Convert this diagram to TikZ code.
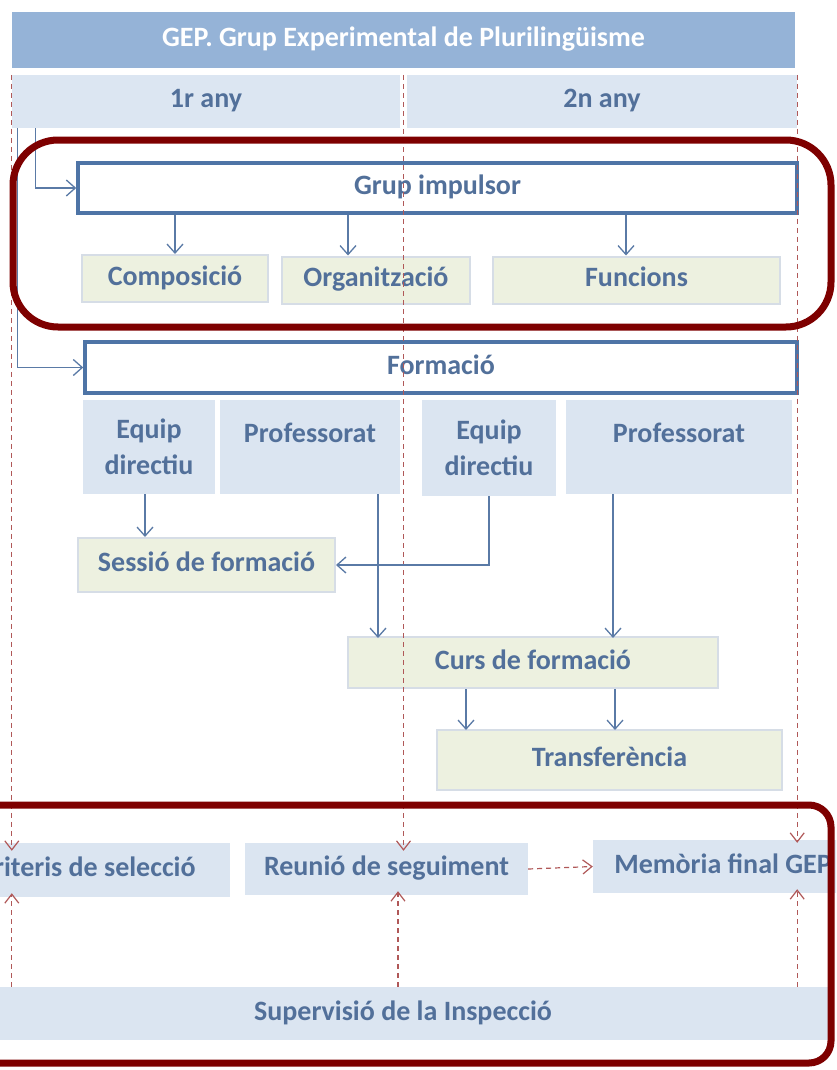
\documentclass[tikz,border=0pt]{standalone}
\usepackage{fontspec}
\setmainfont{Carlito}
\usetikzlibrary{arrows.meta,calc}
\definecolor{titlebar}{HTML}{95B3D7}
\definecolor{hdr}{HTML}{DCE6F2}
\definecolor{pale}{HTML}{DBE5F1}
\definecolor{ygreen}{HTML}{EDF1E0}
\definecolor{yborder}{HTML}{D6DDE6}
\definecolor{txtblue}{HTML}{52709A}
\definecolor{frameblue}{HTML}{4E74A6}
\definecolor{lineblue}{HTML}{5A7AA6}
\definecolor{darkred}{HTML}{7E0000}
\definecolor{dashred}{HTML}{B05858}
\tikzset{
  every node/.style={font=\fontsize{28}{36}\selectfont\bfseries, text=txtblue, inner sep=0pt, align=center},
  oneline/.style={text height=19pt, text depth=6pt},
  titlebox/.style={fill=titlebar, text=white, oneline},
  hdrbox/.style={fill=hdr, oneline},
  palebox/.style={fill=pale},
  lowbox/.style={fill=pale, oneline},
  ybox/.style={fill=ygreen, draw=yborder, line width=2pt, oneline},
  framebox/.style={fill=white, draw=frameblue, line width=3.5pt, oneline},
  conn/.style={draw=lineblue, line width=1.3pt, -{Straight Barb[length=9pt,width=16pt,line width=1.3pt]}},
  dashconn/.style={draw=dashred, line width=1.2pt, dash pattern=on 5pt off 4pt, -{Straight Barb[length=9pt,width=14pt,line width=1.2pt]}},
  redframe/.style={draw=darkred, line width=7pt}
}
\begin{document}
\begin{tikzpicture}[x=1pt,y=-1pt]
\useasboundingbox (0,0) rectangle (836,1070);
\clip (0,0) rectangle (836,1070);
\fill[white] (0,0) rectangle (836,1070);
% title and headers
\node[titlebox, minimum width=783pt, minimum height=56pt] (title) at (403.5,40) {GEP. Grup Experimental de Plurilingüisme};
\node[hdrbox, minimum width=388pt, minimum height=53pt] (h1) at (206,101.5) {1r any};
\node[hdrbox, minimum width=390pt, minimum height=53pt] (h2) at (602,101.5) {2n any};
\coordinate (mid) at (403.5,75);
% grup impulsor
\node[framebox, minimum width=719pt, minimum height=50pt] (gi) at (437.5,188) {Grup impulsor};
\node[ybox, minimum width=186pt, minimum height=47pt] (comp) at (175,278.5) {Composició};
\node[ybox, minimum width=188pt, minimum height=47pt] (org) at (376,280) {Organització};
\node[ybox, minimum width=287pt, minimum height=47pt] (func) at (636.5,280) {Funcions};
% formacio
\node[framebox, minimum width=712pt, minimum height=51pt] (form) at (441,367.5) {Formació};
\node[palebox, minimum width=132pt, minimum height=94pt] (eq1) at (149,447) {Equip\\directiu};
\node[palebox, minimum width=180pt, minimum height=94pt] (pr1) at (310,447) {Professorat\\[-8pt]\phantom{P}};
\node[palebox, minimum width=134pt, minimum height=96pt] (eq2) at (489,448) {Equip\\directiu};
\node[palebox, minimum width=226pt, minimum height=94pt] (pr2) at (679,447) {Professorat\\[-8pt]\phantom{P}};
\node[ybox, minimum width=257pt, minimum height=54pt] (sess) at (206.5,565) {Sessió de formació};
\node[ybox, minimum width=370pt, minimum height=51pt] (curs) at (533,662.5) {Curs de formació};
\node[ybox, minimum width=345pt, minimum height=60pt] (trans) at (609.5,760) {Transferència};
% bottom
\node[lowbox, minimum width=285pt, minimum height=54pt] (crit) at (87.5,870) {Criteris de selecció};
\node[lowbox, minimum width=283pt, minimum height=52pt] (reun) at (386.5,869) {Reunió de seguiment};
\node[lowbox, minimum width=260pt, minimum height=53pt] (mem) at (723,866.5) {Memòria final GEP};
\node[lowbox, minimum width=860pt, minimum height=53pt] (sup) at (403,1013.5) {Supervisió de la Inspecció};
% dashed verticals
\draw[dashconn] (h1.north west) -- ([yshift=-8pt]h1.north west |- crit.north);
\draw[dashconn] (mid) -- ([yshift=-8pt]mid |- reun.north);
\draw[dashconn] (h2.north east) -- ([yshift=-3pt]h2.north east |- mem.north);
\draw[dashconn] (sup.north -| h1.west) -- ([yshift=4pt]h1.west |- crit.south);
\draw[dashconn] (sup.north -| 398,0) -- ([yshift=4pt]398,0 |- reun.south);
\draw[dashconn] (sup.north -| h2.east) -- ([yshift=4pt]h2.east |- mem.south);
\draw[dashconn] (reun.east) -- (mem.west);
% blue connectors
\draw[conn] ($(h1.south west)+(24,0)$) |- (gi.west);
\draw[conn] ($(h1.south west)+(6,0)$) |- (form.west);
\draw[conn] (gi.south -| comp.north) -- (comp.north);
\draw[conn] (gi.south -| 348,0) -- (348,0 |- org.north);
\draw[conn] (gi.south -| 626,0) -- (626,0 |- func.north);
\draw[conn] (eq1.south -| 145,0) -- (145,0 |- sess.north);
\draw[conn] (eq2.south) |- (sess.east);
\draw[conn] (pr1.south -| 378,0) -- ([yshift=-2pt]378,0 |- curs.north);
\draw[conn] (pr2.south -| 613,0) -- ([yshift=-2pt]613,0 |- curs.north);
\draw[conn] (curs.south -| 466,0) -- ([yshift=-1pt]466,0 |- trans.north);
\draw[conn] (curs.south -| 615,0) -- ([yshift=-1pt]615,0 |- trans.north);
% red frames
\draw[redframe, rounded corners=45pt] (13,140) rectangle (831,327);
\draw[redframe, rounded corners=22pt] (-30,805) rectangle (831,1063);
\end{tikzpicture}
\end{document}
